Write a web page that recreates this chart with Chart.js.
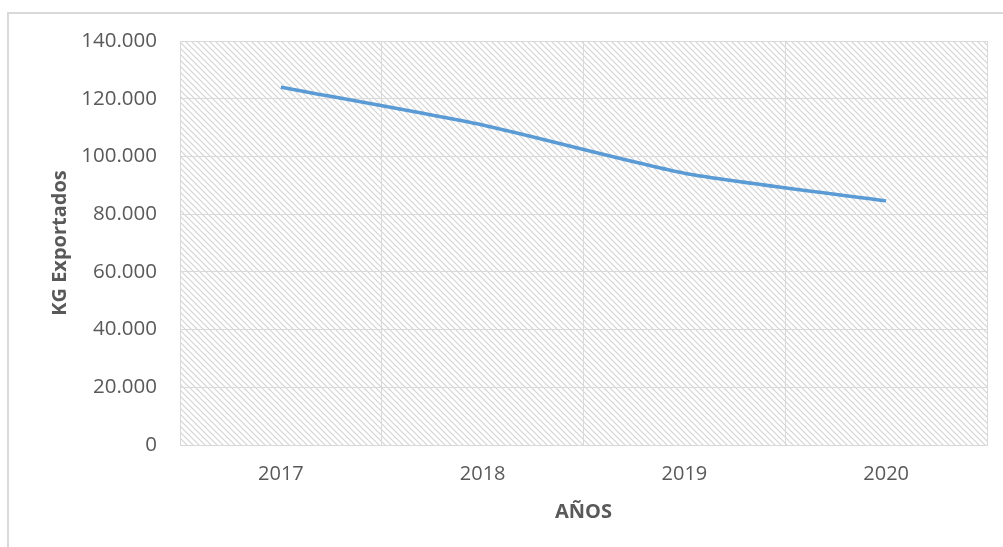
<!DOCTYPE html>
<html>
<head>
<meta charset="utf-8">
<script src="https://cdn.jsdelivr.net/npm/chart.js@4"></script>
<style>
  body { margin: 0; background: #fff; }
  canvas { display: block; }
</style>
</head>
<body>
<canvas id="myChart" width="1003" height="547"></canvas>
<script>
const years = ['2017', '2018', '2019', '2020']
const kgExported = [124000, 110900, 94200, 84600]
const yTicks = [0, 20000, 40000, 60000, 80000, 100000, 120000, 140000]

const textColor = '#595959'
const gridColor = '#d9d9d9'

// diagonal hatch like the excel plot area fill
function makeHatch(){
  const size = 6
  const c = document.createElement('canvas')
  c.width = size
  c.height = size
  const g = c.getContext('2d')
  g.fillStyle = '#ffffff'
  g.fillRect(0, 0, size, size)
  g.strokeStyle = '#d4d4d4'
  g.lineWidth = 1.2
  g.beginPath()
  g.moveTo(-1, -1)
  g.lineTo(size + 1, size + 1)
  g.moveTo(-1, size - 1)
  g.lineTo(1, size + 1)
  g.moveTo(size - 1, -1)
  g.lineTo(size + 1, 1)
  g.stroke()
  return g.createPattern(c, 'repeat')
}

const backgroundPlugin = {
  id: 'hatchBackground',
  beforeDraw(chart){
    const ctx = chart.ctx
    const a = chart.chartArea
    ctx.save()
    ctx.fillStyle = '#ffffff'
    ctx.fillRect(0, 0, chart.width, chart.height)
    // outer frame (only top & left visible)
    ctx.strokeStyle = '#d9d9d9'
    ctx.lineWidth = 2
    ctx.beginPath()
    ctx.moveTo(8, chart.height + 2)
    ctx.lineTo(8, 13)
    ctx.lineTo(chart.width + 2, 13)
    ctx.stroke()
    ctx.fillStyle = makeHatch()
    ctx.fillRect(a.left, a.top, a.right - a.left, a.bottom - a.top)
    ctx.restore()
  }
}

const fmt = v => String(v).replace(/\B(?=(\d{3})+(?!\d))/g, '.')

const ctx = document.getElementById('myChart').getContext('2d')
new Chart(ctx, {
  type: 'line',
  data: {
    labels: years,
    datasets: [{
      label: 'KG Exportados',
      data: kgExported,
      borderColor: '#5b9bd5',
      borderWidth: 3.5,
      pointRadius: 0,
      tension: 0.2,
      fill: false
    }]
  },
  options: {
    responsive: false,
    animation: false,
    layout: { padding: { top: 41, right: 16, left: 0, bottom: 0 } },
    plugins: {
      legend: { display: false },
      tooltip: { enabled: false }
    },
    scales: {
      x: {
        offset: true,
        grid: { offset: true, color: gridColor, drawTicks: false },
        border: { color: gridColor },
        ticks: { color: textColor, font: { family: 'Open Sans', size: 20 }, padding: 17 },
        title: {
          display: true,
          text: 'AÑOS',
          color: textColor,
          font: { family: 'Open Sans', size: 20, weight: 'bold' },
          padding: { top: 0, bottom: 23 }
        },
        afterFit(scale){ scale.height = 102 }
      },
      y: {
        min: 0,
        max: 140000,
        afterBuildTicks(scale){ scale.ticks = yTicks.map(v => ({value: v})) },
        grid: { color: gridColor, drawTicks: false },
        border: { color: gridColor },
        ticks: {
          color: textColor,
          font: { family: 'Open Sans', size: 20.5 },
          padding: 23,
          callback: v => fmt(v)
        },
        title: {
          display: true,
          text: 'KG Exportados',
          color: textColor,
          font: { family: 'Open Sans', size: 20, weight: 'bold' },
          padding: { top: 48, bottom: 0 }
        },
        afterFit(scale){ scale.width = 180 }
      }
    }
  },
  plugins: [backgroundPlugin]
})
</script>
</body>
</html>
